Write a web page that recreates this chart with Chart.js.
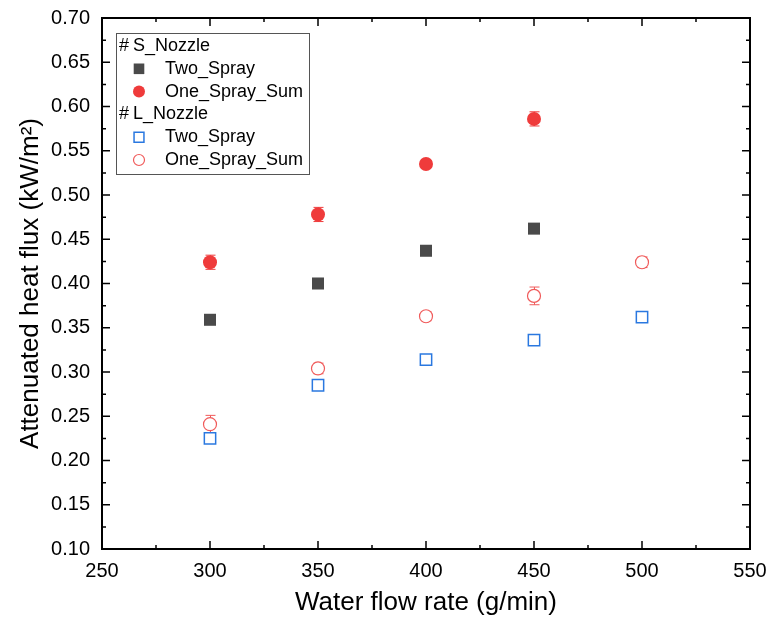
<!DOCTYPE html>
<html>
<head>
<meta charset="utf-8">
<script src="https://cdn.jsdelivr.net/npm/chart.js@4"></script>
<style>
html, body { margin: 0; padding: 0; background: #fff; }
#wrap { width: 773px; height: 633px; }
</style>
</head>
<body>
<div id="wrap"><canvas id="grafico"></canvas></div>
<script>
// Dados
const fluxoS = [300, 350, 400, 450];
const fluxoL = [300, 350, 400, 450, 500];

const sDuas = [0.359, 0.400, 0.437, 0.462];
const sDuasErro = [0.002, 0.002, 0.002, 0.002];
const sSoma = [0.424, 0.478, 0.535, 0.586];
const sSomaErro = [0.008, 0.008, 0.004, 0.008];

const lDuas = [0.225, 0.285, 0.314, 0.336, 0.362];
const lDuasErro = [0.005, 0.004, 0.005, 0.003, 0.003];
const lSoma = [0.241, 0.304, 0.363, 0.386, 0.424];
const lSomaErro = [0.010, 0.006, 0.005, 0.010, 0.006];

const ticksX = [250, 300, 350, 400, 450, 500, 550];
const ticksY = [0.10, 0.15, 0.20, 0.25, 0.30, 0.35, 0.40, 0.45, 0.50, 0.55, 0.60, 0.65, 0.70];

const gruposLegenda = ['S_Nozzle', 'L_Nozzle'];

const FONTE = 'Arial, "Liberation Sans", sans-serif';

function pares(xs, ys) {
    return xs.map((x, i) => ({ x: x, y: ys[i] }));
}

// Barras de erro desenhadas pelas escalas do próprio gráfico
const barrasErro = {
    id: 'barrasErro',
    beforeDatasetsDraw(chart) {
        const { ctx, scales: { x, y } } = chart;
        ctx.save();
        chart.data.datasets.forEach(ds => {
            if (!ds.erro) return;
            ctx.strokeStyle = ds.borderColor;
            ctx.lineWidth = 1;
            ds.data.forEach((p, i) => {
                const e = ds.erro[i];
                const px = Math.round(x.getPixelForValue(p.x)) + 0.5;
                const y1 = y.getPixelForValue(p.y + e);
                const y2 = y.getPixelForValue(p.y - e);
                ctx.beginPath();
                ctx.moveTo(px, y1); ctx.lineTo(px, y2);
                ctx.moveTo(px - 5, y1); ctx.lineTo(px + 5, y1);
                ctx.moveTo(px - 5, y2); ctx.lineTo(px + 5, y2);
                ctx.stroke();
            });
        });
        ctx.restore();
    }
};

// Moldura com marcas internas nos quatro lados
const moldura = {
    id: 'moldura',
    afterDraw(chart) {
        const { ctx, chartArea: a, scales: { x, y } } = chart;
        ctx.save();
        ctx.strokeStyle = '#000';
        ctx.lineWidth = 1.5;
        ctx.beginPath();
        for (let i = 0; i < ticksX.length; i++) {
            const px = x.getPixelForValue(ticksX[i]);
            ctx.moveTo(px, a.bottom); ctx.lineTo(px, a.bottom - 8);
            ctx.moveTo(px, a.top); ctx.lineTo(px, a.top + 8);
            if (i < ticksX.length - 1) {
                const pm = x.getPixelForValue((ticksX[i] + ticksX[i + 1]) / 2);
                ctx.moveTo(pm, a.bottom); ctx.lineTo(pm, a.bottom - 4);
                ctx.moveTo(pm, a.top); ctx.lineTo(pm, a.top + 4);
            }
        }
        for (let i = 0; i < ticksY.length; i++) {
            const py = y.getPixelForValue(ticksY[i]);
            ctx.moveTo(a.left, py); ctx.lineTo(a.left + 8, py);
            ctx.moveTo(a.right, py); ctx.lineTo(a.right - 8, py);
            if (i < ticksY.length - 1) {
                const pm = y.getPixelForValue((ticksY[i] + ticksY[i + 1]) / 2);
                ctx.moveTo(a.left, pm); ctx.lineTo(a.left + 4, pm);
                ctx.moveTo(a.right, pm); ctx.lineTo(a.right - 4, pm);
            }
        }
        ctx.stroke();
        ctx.lineWidth = 2;
        ctx.strokeRect(a.left, a.top, a.right - a.left, a.bottom - a.top);
        ctx.restore();
    }
};

// Legenda agrupada por bocal
const legenda = {
    id: 'legenda',
    afterDraw(chart) {
        const ctx = chart.ctx;
        const bx = 116, by = 33, bw = 193, bh = 141;
        ctx.save();
        ctx.fillStyle = '#fff';
        ctx.fillRect(bx, by, bw, bh);
        ctx.strokeStyle = '#555';
        ctx.lineWidth = 1;
        ctx.strokeRect(bx + 0.5, by + 0.5, bw, bh);
        ctx.font = '18px ' + FONTE;
        ctx.textBaseline = 'middle';
        const linha = 22.8;
        let yy = by + 13;
        gruposLegenda.forEach((g, gi) => {
            ctx.fillStyle = '#000';
            ctx.fillText('#', bx + 3, yy);
            ctx.fillText(g, bx + 17, yy);
            yy += linha;
            chart.data.datasets.filter(d => d.grupo === gi).forEach(d => {
                ctx.fillStyle = d.backgroundColor;
                ctx.strokeStyle = d.borderColor;
                ctx.lineWidth = d.borderWidth;
                Chart.helpers.drawPoint(ctx, {
                    pointStyle: d.pointStyle,
                    radius: d.pointRadius - 1,
                    rotation: 0,
                    borderWidth: d.borderWidth
                }, bx + 23, yy);
                ctx.fillStyle = '#000';
                ctx.fillText(d.label, bx + 49, yy);
                yy += linha;
            });
        });
        ctx.restore();
    }
};

new Chart(document.getElementById('grafico'), {
    type: 'scatter',
    data: {
        datasets: [
            {
                label: 'Two_Spray', grupo: 0,
                data: pares(fluxoS, sDuas), erro: sDuasErro,
                pointStyle: 'rect', pointRadius: 8.5,
                backgroundColor: '#4a4a4a', borderColor: '#4a4a4a', borderWidth: 0
            },
            {
                label: 'One_Spray_Sum', grupo: 0,
                data: pares(fluxoS, sSoma), erro: sSomaErro,
                pointStyle: 'circle', pointRadius: 7,
                backgroundColor: '#ef3b3b', borderColor: '#ef3b3b', borderWidth: 0
            },
            {
                label: 'Two_Spray', grupo: 1,
                data: pares(fluxoL, lDuas), erro: lDuasErro,
                pointStyle: 'rect', pointRadius: 8,
                backgroundColor: '#ffffff', borderColor: '#2a78e0', borderWidth: 1.5
            },
            {
                label: 'One_Spray_Sum', grupo: 1,
                data: pares(fluxoL, lSoma), erro: lSomaErro,
                pointStyle: 'circle', pointRadius: 6.5,
                backgroundColor: '#ffffff', borderColor: '#f05a5a', borderWidth: 1.2
            }
        ]
    },
    options: {
        responsive: true,
        maintainAspectRatio: false,
        animation: false,
        layout: { padding: { top: 18, right: 23, left: 0, bottom: 0 } },
        plugins: {
            legend: { display: false },
            tooltip: { enabled: false }
        },
        scales: {
            x: {
                type: 'linear',
                min: 250, max: 550,
                afterBuildTicks: s => { s.ticks = ticksX.map(v => ({ value: v })); },
                afterFit: s => { s.height = 84; s.paddingLeft = 0; s.paddingRight = 0; },
                grid: { display: false, drawTicks: false },
                border: { display: false },
                ticks: { color: '#000', font: { family: FONTE, size: 20 }, padding: 10, maxRotation: 0 },
                title: { display: true, text: 'Water flow rate (g/min)', color: '#000', font: { family: FONTE, size: 26 }, padding: 15 }
            },
            y: {
                type: 'linear',
                min: 0.10, max: 0.70,
                afterBuildTicks: s => { s.ticks = ticksY.map(v => ({ value: v })); },
                afterFit: s => { s.width = 102; s.paddingTop = 0; s.paddingBottom = 0; },
                grid: { display: false, drawTicks: false },
                border: { display: false },
                ticks: { color: '#000', font: { family: FONTE, size: 20 }, padding: 12, callback: v => v.toFixed(2) },
                title: { display: true, text: 'Attenuated heat flux (kW/m²)', color: '#000', font: { family: FONTE, size: 26 }, padding: 15 }
            }
        }
    },
    plugins: [barrasErro, moldura, legenda]
});
</script>
</body>
</html>
